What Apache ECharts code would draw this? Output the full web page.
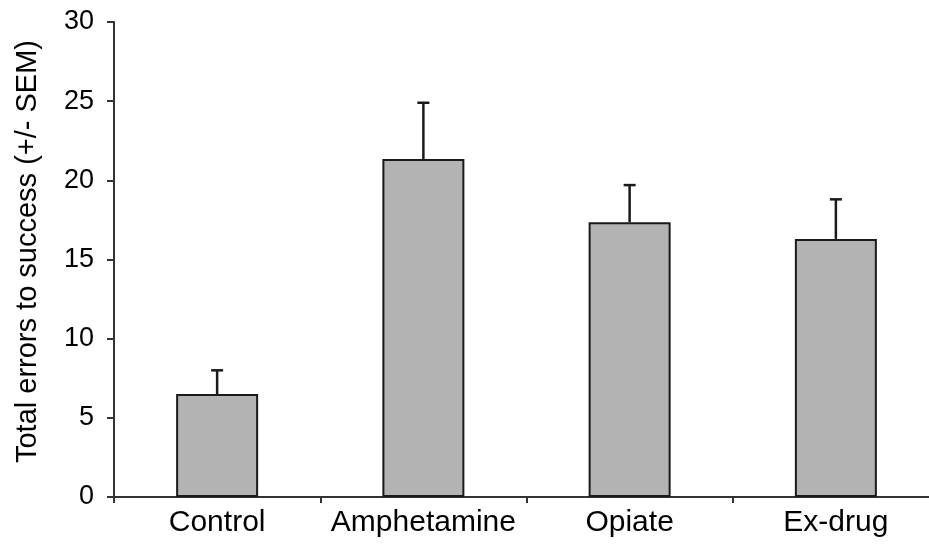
<!DOCTYPE html>
<html>
<head>
<meta charset="utf-8">
<script src="https://cdn.jsdelivr.net/npm/echarts@6/dist/echarts.min.js"></script>
<style>
  html, body { margin: 0; padding: 0; background: #ffffff; }
  #chart { width: 929px; height: 545px; }
</style>
</head>
<body>
<div id="chart"></div>
<script>
// Group names along the x axis
const categories = ['Control', 'Amphetamine', 'Opiate', 'Ex-drug'];
// Mean total errors to success for each group
const meanErrors = [6.5, 21.35, 17.35, 16.3];
// Standard error of the mean for each group
const semValues = [1.5, 3.55, 2.35, 2.5];
// Y axis range and step
const yMin = 0;
const yMax = 30;
const yStep = 5;

const chart = echarts.init(document.getElementById('chart'), null, { renderer: 'canvas' });

// [category index, mean, mean + SEM] for the error whiskers
const errorData = meanErrors.map((m, i) => [i, m, m + semValues[i]]);

const fontFamily = 'Liberation Sans, Arial, Helvetica, sans-serif';

chart.setOption({
  animation: false,
  backgroundColor: '#ffffff',
  grid: {
    left: 114, width: 825, top: 22, height: 475,
    containLabel: false,
    outerBoundsMode: 'none'
  },
  xAxis: {
    type: 'category',
    data: categories,
    axisLine: { show: true, lineStyle: { color: '#333333', width: 2 } },
    axisTick: { show: true, length: 6, alignWithLabel: false, lineStyle: { color: '#333333', width: 2 } },
    axisLabel: { color: '#000000', fontSize: 30, fontFamily: fontFamily, margin: 11, interval: 0 },
    splitLine: { show: false }
  },
  yAxis: {
    type: 'value',
    min: yMin,
    max: yMax,
    interval: yStep,
    name: 'Total errors to success (+/- SEM)',
    nameLocation: 'middle',
    nameGap: 72,
    nameTextStyle: { color: '#000000', fontSize: 29, fontFamily: fontFamily, padding: [0, 0, 0, 16] },
    axisLine: { show: true, lineStyle: { color: '#333333', width: 2 } },
    axisTick: { show: true, inside: false, length: 7, lineStyle: { color: '#333333', width: 2 } },
    axisLabel: { color: '#000000', fontSize: 27, fontFamily: fontFamily, margin: 20 },
    splitLine: { show: false }
  },
  series: [
    {
      type: 'bar',
      data: meanErrors,
      barWidth: 82,
      itemStyle: { color: '#b3b3b3', borderColor: '#1a1a1a', borderWidth: 2 },
      z: 2
    },
    {
      type: 'custom',
      data: errorData,
      z: 3,
      renderItem: function (params, api) {
        const x = api.value(0);
        const base = api.coord([x, api.value(1)]);
        const top = api.coord([x, api.value(2)]);
        const half = 6;
        return {
          type: 'group',
          children: [
            {
              type: 'line',
              shape: { x1: base[0], y1: base[1], x2: top[0], y2: top[1] },
              style: { stroke: '#1a1a1a', lineWidth: 2.5 }
            },
            {
              type: 'line',
              shape: { x1: top[0] - half, y1: top[1], x2: top[0] + half, y2: top[1] },
              style: { stroke: '#1a1a1a', lineWidth: 2.5 }
            }
          ]
        };
      }
    }
  ]
});
</script>
</body>
</html>
